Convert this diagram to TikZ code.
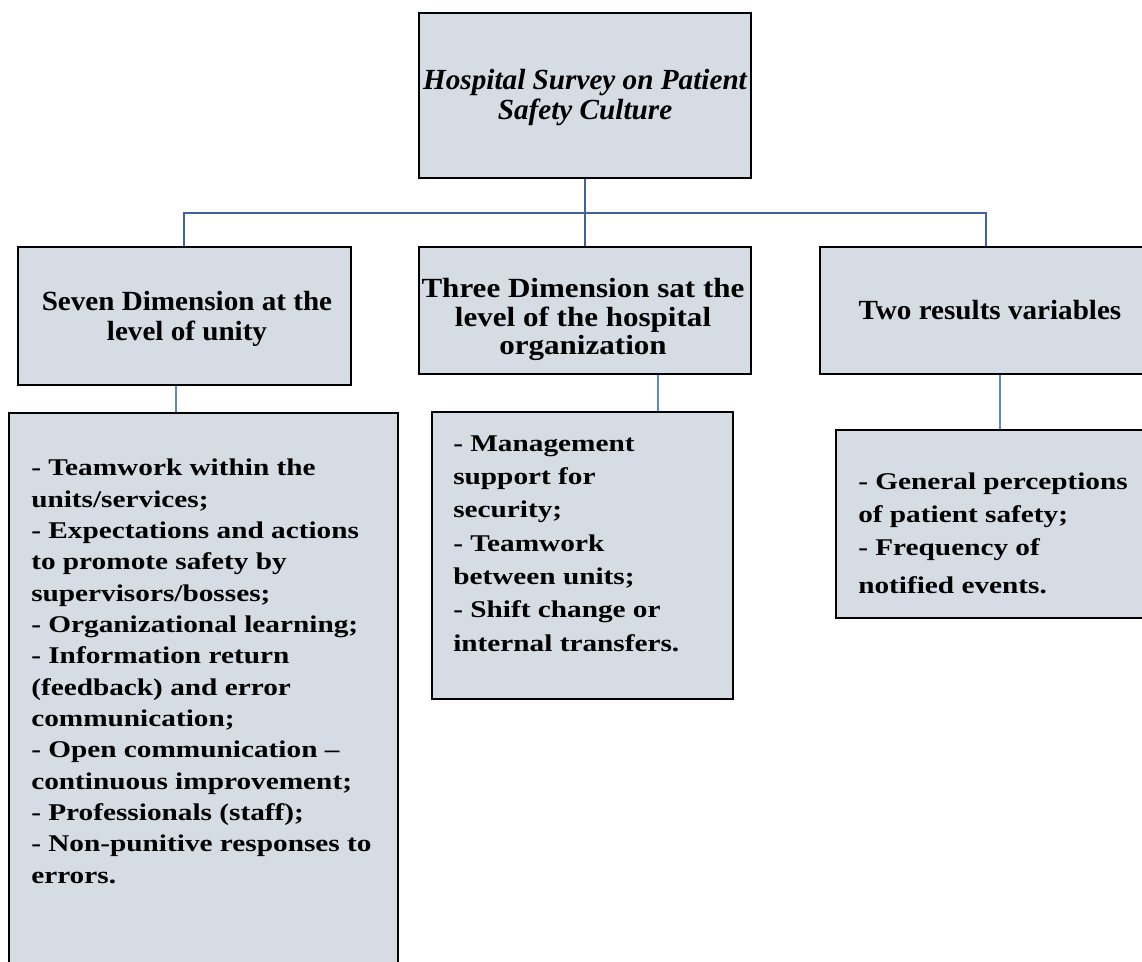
\documentclass[tikz,border=0pt]{standalone}
\usepackage{fontspec}
\setmainfont{Liberation Serif}
\newfontfamily\titlefont[Ligatures=TeX]{Liberation Serif}
\newfontfamily\headfont[Ligatures=TeX,FakeStretch=1.05]{Liberation Serif}
\newfontfamily\headwidefont[Ligatures=TeX,FakeStretch=1.12]{Liberation Serif}
\newfontfamily\bodyfont[Ligatures=TeX,FakeStretch=1.22]{Liberation Serif}
\usetikzlibrary{fit,backgrounds}
\definecolor{boxfill}{RGB}{213,220,228}
\definecolor{busblue}{RGB}{65,98,160}
\definecolor{linkblue}{RGB}{91,137,201}
\begin{document}
\begin{tikzpicture}[x=0.75pt,y=-0.75pt,
  box/.style={draw=black, line width=1.6pt, fill=boxfill, inner sep=0pt},
  bus/.style={draw=busblue, line width=1.5pt},
  link/.style={draw=linkblue, line width=1.2pt},
  titletext/.style={font={\titlefont\bfseries\itshape\fontsize{21.9}{22.5}\selectfont}, align=center, anchor=base, inner sep=0pt},
  headtext/.style={font={\headfont\bfseries\fontsize{20.8}{22.5}\selectfont}, align=center, anchor=base, inner sep=0pt},
  bodytext/.style={font={\bodyfont\bfseries\fontsize{18}{23.5}\selectfont}, align=left, anchor=base west, inner sep=0pt},
]
\useasboundingbox (0,0) rectangle (1142,962);
\clip (0,0) rectangle (1142,962);

% boxes
\node[box, fit={(419,13) (751,178)}] (T) {};
\node[box, fit={(18,247) (351,385)}] (A) {};
\node[box, fit={(419,247) (751,374)}] (B) {};
\node[box, fit={(820,247) (1160,374)}] (C) {};
\node[box, fit={(9,413) (398,980)}] (D) {};
\node[box, fit={(432,412) (733,699)}] (E) {};
\node[box, fit={(836,430) (1165,618)}] (F) {};

% texts (anchor base = baseline of the last line)
\node[titletext] (tT) at (585,120) {Hospital Survey on Patient\\Safety Culture};
\node[headtext] (tA) at (187,341) {Seven Dimension at the\\level of unity};
\node[headtext, font={\headwidefont\bfseries\fontsize{20.8}{21.4}\selectfont}] (tB) at (583,355) {Three Dimension sat the\\level of the hospital\\organization};
\node[headtext] (tC) at (990,320) {Two results variables};
\node[bodytext] (tD) at (31,883) {- Teamwork within the\\units/services;\\- Expectations and actions\\to promote safety by\\supervisors/bosses;\\- Organizational learning;\\- Information return\\(feedback) and error\\communication;\\- Open communication –\\continuous improvement;\\- Professionals (staff);\\- Non-punitive responses to\\errors.};
\node[bodytext, font={\bodyfont\bfseries\fontsize{18}{25}\selectfont}] (tE) at (453,651) {- Management\\support for\\security;\\- Teamwork\\between units;\\- Shift change or\\internal transfers.};
\node[bodytext, font={\bodyfont\bfseries\fontsize{18}{25}\selectfont}] (tF) at (858,593) {- General perceptions\\of patient safety;\\- Frequency of\\[3pt]notified events.};

% connectors
\coordinate (busy) at (0,213);
\coordinate (xa) at (184,0);
\coordinate (xc) at (986,0);
\coordinate (xd) at (176,0);
\coordinate (xe) at (658,0);
\coordinate (xf) at (1000,0);
\begin{pgfonlayer}{background}
\draw[bus] (T.south) -- (B.north);
\draw[bus] (A.north -| xa) -- (xa |- busy) -- (xc |- busy) -- (C.north -| xc);
\draw[link] (A.south -| xd) -- (D.north -| xd);
\draw[link] (B.south -| xe) -- (E.north -| xe);
\draw[link] (C.south -| xf) -- (F.north -| xf);
\end{pgfonlayer}
\end{tikzpicture}
\end{document}
